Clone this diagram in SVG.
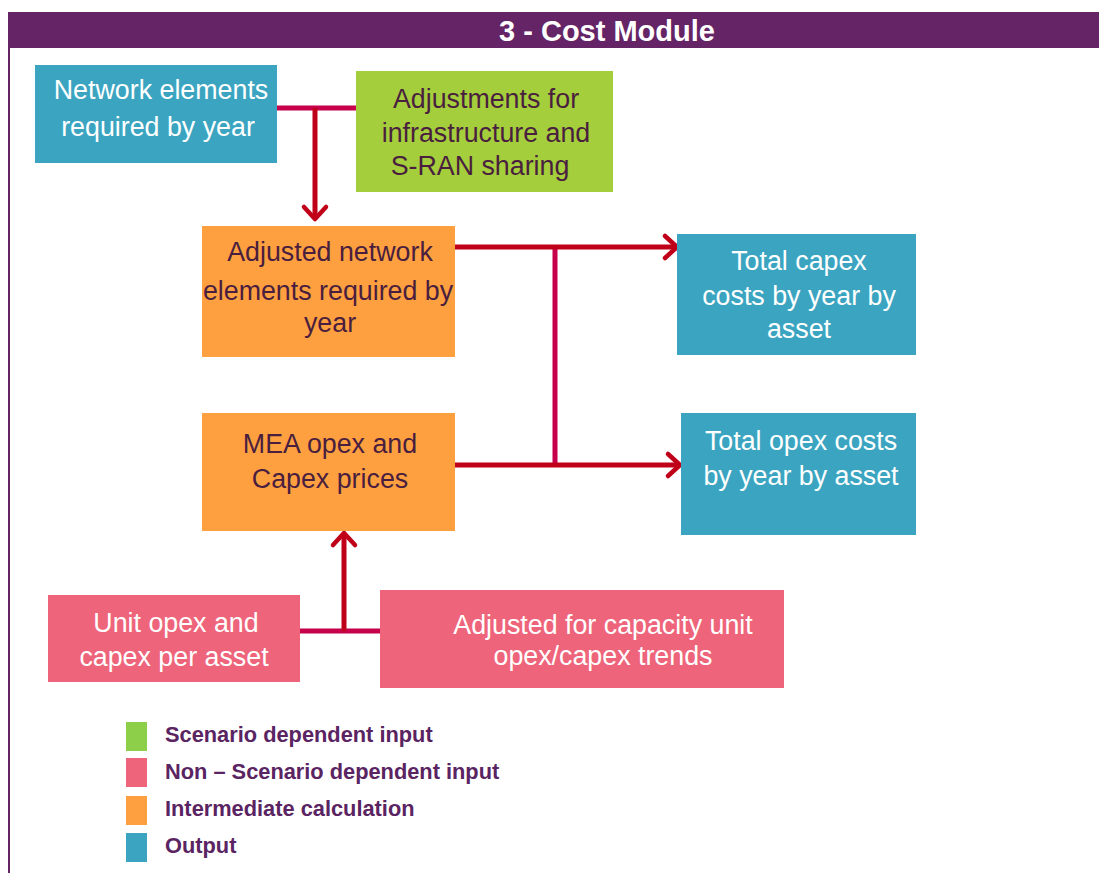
<svg xmlns="http://www.w3.org/2000/svg" width="1099" height="873" viewBox="0 0 1099 873">
<defs>
<marker id="arr" viewBox="-2 -2 18 28" refX="13" refY="12" markerWidth="18" markerHeight="28" markerUnits="userSpaceOnUse" orient="auto" overflow="visible">
<path d="M1,1 L13,12 L1,23" fill="none" stroke="#C00018" stroke-width="4.5" stroke-linecap="round" stroke-linejoin="round"/>
</marker>
</defs>
<style>
.box text{font-family:"Liberation Sans",Arial,sans-serif;font-size:26.8px;text-anchor:middle}
.w text{fill:#ffffff}
.d text{fill:#4a1e3e}
.teal{fill:#3BA5C1}
.green{fill:#A4CE3B}
.orange{fill:#FFA040}
.pink{fill:#EE647A}
.arrow{stroke:#C00018;stroke-width:5;fill:none}
.join{stroke:#C7004C;stroke-width:5;fill:none}
.leg text{font-family:"Liberation Sans",Arial,sans-serif;font-size:21.8px;font-weight:bold;fill:#5a2462}
</style>
<rect x="0" y="0" width="1099" height="873" fill="#ffffff"/>
<g id="frame">
<rect x="8" y="12" width="1091" height="36" fill="#652466"/>
<line x1="9" y1="48" x2="9" y2="873" stroke="#652466" stroke-width="2"/>
<text x="607" y="41" font-family="Liberation Sans,Arial,sans-serif" font-size="29" font-weight="bold" fill="#ffffff" text-anchor="middle">3 - Cost Module</text>
</g>
<g id="connectors">
<line class="join" x1="277" y1="108" x2="356" y2="108"/>
<line class="arrow" x1="315" y1="108" x2="315" y2="219" marker-end="url(#arr)"/>
<line class="join" x1="555" y1="247" x2="555" y2="463"/>
<line class="arrow" x1="455" y1="247" x2="677" y2="247" marker-end="url(#arr)"/>
<line class="arrow" x1="455" y1="465" x2="680" y2="465" marker-end="url(#arr)"/>
<line class="join" x1="300" y1="631" x2="380" y2="631"/>
<line class="arrow" x1="344" y1="631" x2="344" y2="533" marker-end="url(#arr)"/>
</g>
<g id="network-elements" class="box w">
<rect class="teal" x="35" y="65" width="242" height="98"/>
<text x="161" y="99">Network elements</text>
<text x="158" y="136">required by year</text>
</g>
<g id="adjustments" class="box d">
<rect class="green" x="356" y="71" width="257" height="121"/>
<text x="486" y="108">Adjustments for</text>
<text x="486" y="142">infrastructure and</text>
<text x="480" y="175">S-RAN sharing</text>
</g>
<g id="adjusted-network" class="box d">
<rect class="orange" x="202" y="226" width="253" height="131"/>
<text x="330" y="261">Adjusted network</text>
<text x="328" y="300">elements required by</text>
<text x="330" y="332">year</text>
</g>
<g id="total-capex" class="box w">
<rect class="teal" x="677" y="234" width="239" height="121"/>
<text x="799" y="270">Total capex</text>
<text x="799" y="305">costs by year by</text>
<text x="799" y="338">asset</text>
</g>
<g id="mea-opex" class="box d">
<rect class="orange" x="202" y="413" width="253" height="118"/>
<text x="330" y="453">MEA opex and</text>
<text x="330" y="488">Capex prices</text>
</g>
<g id="total-opex" class="box w">
<rect class="teal" x="681" y="413" width="235" height="122"/>
<text x="801" y="450">Total opex costs</text>
<text x="801" y="485">by year by asset</text>
</g>
<g id="unit-opex" class="box w">
<rect class="pink" x="48" y="595" width="252" height="87"/>
<text x="176" y="632">Unit opex and</text>
<text x="174" y="666">capex per asset</text>
</g>
<g id="adjusted-capacity" class="box w">
<rect class="pink" x="380" y="590" width="404" height="98"/>
<text x="603" y="634">Adjusted for capacity unit</text>
<text x="603" y="665">opex/capex trends</text>
</g>
<g id="legend" class="leg">
<rect x="126" y="722" width="21" height="29" fill="#8ECF4A"/>
<rect x="126" y="758" width="21" height="29" fill="#EE647A"/>
<rect x="126" y="796" width="21" height="29" fill="#FFA040"/>
<rect x="126" y="833" width="21" height="29" fill="#3BA5C1"/>
<text x="165" y="742">Scenario dependent input</text>
<text x="165" y="779">Non – Scenario dependent input</text>
<text x="165" y="816">Intermediate calculation</text>
<text x="165" y="853">Output</text>
</g>
</svg>
